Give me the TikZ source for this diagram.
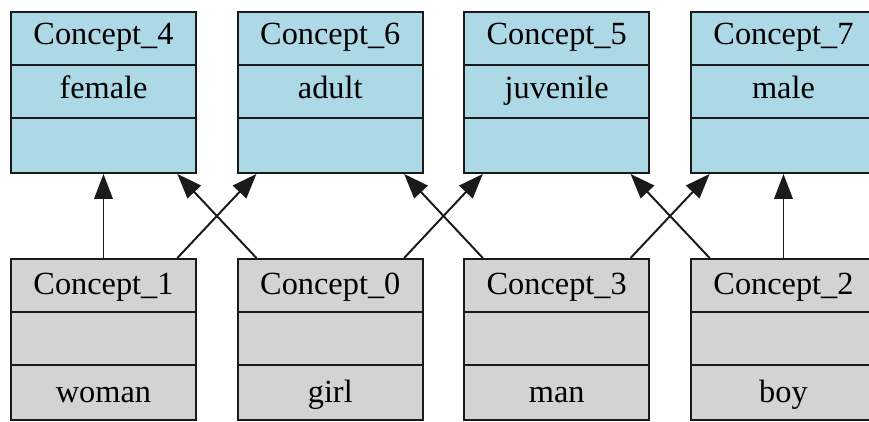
\documentclass[tikz,border=0pt]{standalone}
\usepackage{fontspec}
\setmainfont{Liberation Serif}
\usepackage{xcolor}
\usepackage{tikz}
\usetikzlibrary{positioning,arrows.meta,calc}
\definecolor{ink}    {HTML}{1A1A1A}
\definecolor{topfill}{HTML}{ADD8E6}
\definecolor{botfill}{HTML}{D3D3D3}
\tikzset{
  topbox/.style = {draw=ink, fill=topfill, line width=1.4pt, inner sep=0pt,
                   minimum width=4.625cm, minimum height=4.03cm},
  botbox/.style = {draw=ink, fill=botfill, line width=1.4pt, inner sep=0pt,
                   minimum width=4.625cm, minimum height=4.03cm},
  rowrule/.style = {draw=ink, line width=1.4pt},
  cell/.style   = {font=\fontsize{23}{27}\selectfont, text=black, anchor=base, inner sep=0pt},
  link/.style   = {-{Triangle[length=6.2mm, width=4.6mm]}, draw=ink, line width=1.4pt},
}

\begin{document}
\begin{tikzpicture}
  \useasboundingbox (0,0) rectangle (21.725,-10.525);

  % upper row: attribute concepts
  \foreach \id/\x/\title/\attr in {c4/0.25/Concept\_4/female, c6/5.92/Concept\_6/adult,
                                   c5/11.58/Concept\_5/juvenile, c7/17.25/Concept\_7/male} {
    \node[topbox, anchor=north west] (\id) at (\x,-0.27) {};
    \draw[rowrule] ($(\id.north west)+(0,-1.343)$) -- ($(\id.north east)+(0,-1.343)$);
    \draw[rowrule] ($(\id.north west)+(0,-2.686)$) -- ($(\id.north east)+(0,-2.686)$);
    \node[cell] (\id-title) at ($(\id.north)+(0,-0.85)$) {\title};
    \node[cell] (\id-attr) at ($(\id.north)+(0,-2.2)$) {\attr};
  }

  % lower row: object concepts
  \foreach \id/\x/\title/\obj in {c1/0.25/Concept\_1/woman, c0/5.92/Concept\_0/girl,
                                  c3/11.58/Concept\_3/man, c2/17.25/Concept\_2/boy} {
    \node[botbox, anchor=north west] (\id) at (\x,-6.45) {};
    \draw[rowrule] ($(\id.north west)+(0,-1.343)$) -- ($(\id.north east)+(0,-1.343)$);
    \draw[rowrule] ($(\id.north west)+(0,-2.686)$) -- ($(\id.north east)+(0,-2.686)$);
    \node[cell] (\id-title) at ($(\id.north)+(0,-0.92)$) {\title};
    \node[cell] (\id-obj) at ($(\id.north)+(0,-3.6)$) {\obj};
  }

  % edges
  \draw[link] (c1.north) -- (c4.south);
  \draw[link] (c2.north) -- (c7.south);
  \foreach \src/\dst in {c1/c6, c0/c5, c3/c7}
    \draw[link] ($(\src.north west)!0.895!(\src.north east)$) -- ($(\dst.south west)!0.105!(\dst.south east)$);
  \foreach \src/\dst in {c0/c4, c3/c6, c2/c5}
    \draw[link] ($(\src.north west)!0.105!(\src.north east)$) -- ($(\dst.south west)!0.895!(\dst.south east)$);
\end{tikzpicture}
\end{document}
